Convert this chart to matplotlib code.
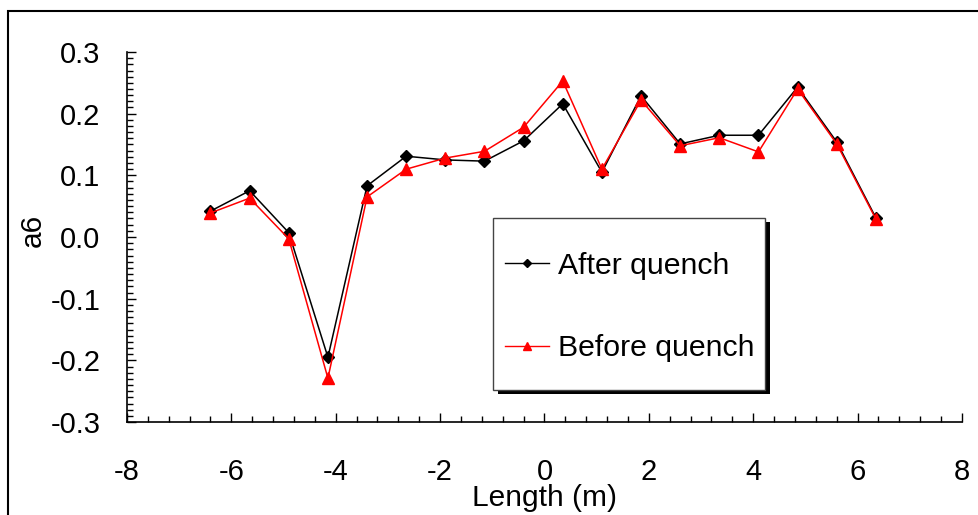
import matplotlib
matplotlib.use('Agg')
import matplotlib.pyplot as plt
from matplotlib.patches import Rectangle
from matplotlib.lines import Line2D
from matplotlib.ticker import MultipleLocator, FormatStrFormatter

plt.rcParams['font.family'] = ['Liberation Sans', 'DejaVu Sans']
plt.rcParams['axes.unicode_minus'] = False

# position along the magnet (m)
length = [-6.4, -5.65, -4.9, -4.15, -3.4, -2.65, -1.9, -1.15, -0.4,
          0.35, 1.1, 1.85, 2.6, 3.35, 4.1, 4.85, 5.6, 6.35]
after_quench = [0.042, 0.075, 0.007, -0.195, 0.083, 0.131, 0.125, 0.123, 0.156,
                0.216, 0.105, 0.229, 0.151, 0.165, 0.165, 0.243, 0.154, 0.031]
before_quench = [0.039, 0.063, -0.003, -0.229, 0.065, 0.110, 0.128, 0.139, 0.178,
                 0.253, 0.110, 0.222, 0.148, 0.161, 0.138, 0.240, 0.151, 0.029]

W, H = 979, 515
fig = plt.figure(figsize=(W/100, H/100), dpi=100)

def fx(px):
    return px / W

def fy(py):
    return 1 - py / H

ax = fig.add_axes([fx(127), fy(422), fx(962) - fx(127), fy(52) - fy(422)])
ax.plot(length, after_quench, color='black', lw=1.1, marker='D', ms=6.5, zorder=3)
ax.plot(length, before_quench, color='red', lw=1.1, marker='^', ms=8.5, zorder=4)

ax.set_xlim(-8, 8)
ax.set_ylim(-0.3, 0.3)
ax.xaxis.set_major_locator(MultipleLocator(2))
ax.xaxis.set_minor_locator(MultipleLocator(0.4))
ax.yaxis.set_major_locator(MultipleLocator(0.1))
ax.yaxis.set_minor_locator(MultipleLocator(0.01))
ax.yaxis.set_major_formatter(FormatStrFormatter('%.1f'))

for s in ['top', 'right']:
    ax.spines[s].set_visible(False)
for s in ['left', 'bottom']:
    ax.spines[s].set_linewidth(1.2)

ax.tick_params(axis='both', which='both', direction='in', labelsize=21, width=1)
ax.tick_params(axis='x', which='major', length=6.5, pad=26)
ax.tick_params(axis='x', which='minor', length=4)
ax.tick_params(axis='y', which='major', length=6.5, pad=19)
ax.tick_params(axis='y', which='minor', length=4.5)

fig.text(fx(545), fy(505.5), 'Length (m)', ha='center', va='baseline', fontsize=21.5)
fig.text(fx(33), fy(230), 'a6', ha='center', va='center', rotation=90, fontsize=21.5)

# legend box with drop shadow
fig.patches.append(Rectangle((fx(498), fy(394)), fx(765) - fx(493), fy(218) - fy(390),
                             transform=fig.transFigure, facecolor='black',
                             edgecolor='none', zorder=5))
fig.patches.append(Rectangle((fx(493), fy(390)), fx(765) - fx(493), fy(218) - fy(390),
                             transform=fig.transFigure, facecolor='white',
                             edgecolor='#444444', lw=1, zorder=6))
handles = [Line2D([], [], color='black', lw=1, marker='D', ms=4.5),
           Line2D([], [], color='red', lw=1, marker='^', ms=6)]
leg = fig.legend(handles, ['After quench', 'Before quench'], loc='center left',
                 bbox_to_anchor=(fx(505), fy(307)), frameon=False, fontsize=21.8,
                 handlelength=1.45, handletextpad=0.3, labelspacing=1.8, borderpad=0,
                 borderaxespad=0)
leg.set_zorder(7)

# outer frame of the chart area
fig.patches.append(Rectangle((fx(8), -0.1), 1.2, fy(11) + 0.1, transform=fig.transFigure,
                             facecolor='none', edgecolor='black', lw=1.5, zorder=10))

fig.savefig('out.png', dpi=100)
